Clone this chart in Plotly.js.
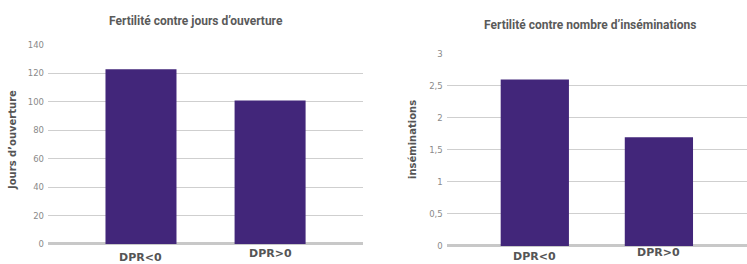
<!DOCTYPE html>
<html>
<head>
<meta charset="utf-8">
<script src="https://cdn.plot.ly/plotly-3.0.1.min.js"></script>
<style>html,body{margin:0;padding:0;background:#fff;}#chart{width:747px;height:264px;}</style>
</head>
<body>
<div id="chart"></div>
<script>
const categories = ["DPR<0", "DPR>0"];
const joursOuverture = [123, 101];
const inseminations = [2.6, 1.7];
const chartTitles = ["Fertilité contre jours d’ouverture", "Fertilité contre nombre d’inséminations"];
const yTitles = ["Jours d’ouverture", "inséminations"];

const barColor = "#42267a";
const gridColor = "#cfcfcf";
const tickFont = {family: "DejaVu Sans, sans-serif", size: 8.5, color: "#8a8a8a"};
const labelFont = {family: "DejaVu Sans, sans-serif", size: 11, color: "#555555"};
const yTitleFont = {family: "DejaVu Sans, sans-serif", size: 10, color: "#555555"};

const xIdx = categories.map((c, i) => i);

const traces = [
  {type: "bar", x: xIdx, y: joursOuverture, xaxis: "x", yaxis: "y", marker: {color: barColor}, hoverinfo: "skip"},
  {type: "bar", x: xIdx, y: inseminations, xaxis: "x2", yaxis: "y2", marker: {color: barColor}, hoverinfo: "skip"}
];

const annotations = [];
// subplot titles
[[0.263, 0.92], [0.79, 0.905]].forEach((p, i) => {
  annotations.push({text: "<b>" + chartTitles[i] + "</b>", xref: "paper", yref: "paper", x: p[0], y: p[1],
    xanchor: "center", yanchor: "middle", showarrow: false,
    font: {family: "Roboto, sans-serif", size: 12, color: "#5a5a5a"}});
});
// y-axis titles
[[0.0175, 0.47], [0.553, 0.47]].forEach((p, i) => {
  annotations.push({text: "<b>" + yTitles[i] + "</b>", xref: "paper", yref: "paper", x: p[0], y: p[1],
    xanchor: "center", yanchor: "middle", textangle: -90, showarrow: false, font: yTitleFont});
});
// category labels (staggered as in reference)
const labelY = [[0.025, 0.04], [0.03, 0.045]];
["x", "x2"].forEach((ax, a) => {
  categories.forEach((c, i) => {
    annotations.push({text: "<b>" + c + "</b>", xref: ax, yref: "paper", x: i, y: labelY[a][i],
      xanchor: "center", yanchor: "middle", showarrow: false, font: labelFont});
  });
});

const layout = {
  width: 747, height: 264,
  margin: {l: 0, r: 0, t: 0, b: 0},
  paper_bgcolor: "#ffffff", plot_bgcolor: "#ffffff",
  showlegend: false,
  separators: ",.",
  bargap: 0.45,
  xaxis: {anchor: "y", domain: [0.0643, 0.486], range: [-0.72, 1.72], showticklabels: false, showgrid: false, zeroline: false, showline: false, ticks: "", fixedrange: true},
  yaxis: {anchor: "x", domain: [0.0758, 0.8295], range: [0, 140], dtick: 20, tick0: 0, showgrid: true, gridcolor: gridColor, gridwidth: 1,
    zeroline: true, zerolinecolor: "#c8c8c8", zerolinewidth: 3, showline: false, tickfont: tickFont, ticks: "", ticklabelstandoff: 3},
  xaxis2: {anchor: "y2", domain: [0.598, 1.0], range: [-0.71, 1.71], showticklabels: false, showgrid: false, zeroline: false, showline: false, ticks: "", fixedrange: true},
  yaxis2: {anchor: "x2", domain: [0.0682, 0.7955], range: [0, 3], dtick: 0.5, tick0: 0, showgrid: true, gridcolor: gridColor, gridwidth: 1,
    zeroline: true, zerolinecolor: "#c8c8c8", zerolinewidth: 3, showline: false, tickfont: tickFont, ticks: "", ticklabelstandoff: 3},
  annotations: annotations
};

Plotly.newPlot("chart", traces, layout, {staticPlot: true, displayModeBar: false});
</script>
</body>
</html>
